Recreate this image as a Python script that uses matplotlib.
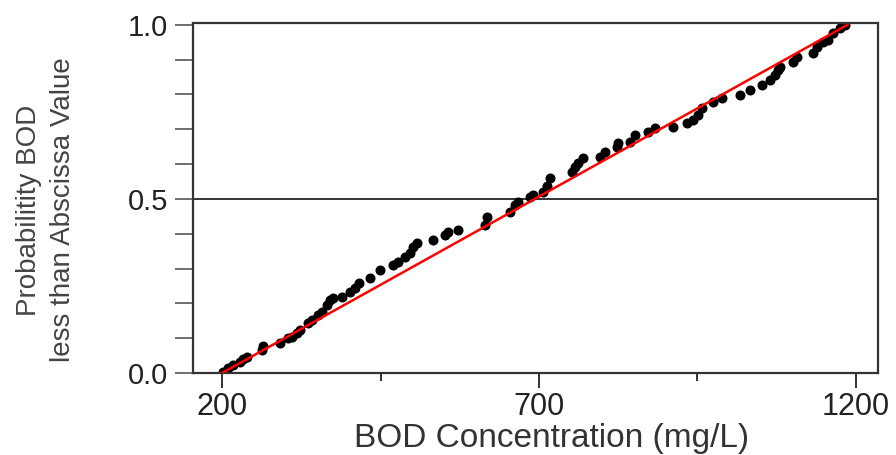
import numpy as np
import matplotlib
matplotlib.use('Agg')
import matplotlib.pyplot as plt
from matplotlib.ticker import FixedLocator

plt.rcParams['font.family'] = ['Liberation Sans', 'DejaVu Sans']

# BOD concentrations (mg/L), sorted, and their plotting probabilities
bod = [202, 209, 217, 228, 233, 239, 263, 265, 291, 304, 310, 318, 323, 336, 342,
       351, 358, 366, 370, 375, 389, 402, 410, 416, 433, 449, 470, 478, 489, 497,
       501, 508, 533, 552, 556, 572, 615, 618, 654, 662, 667, 686, 691, 706, 713,
       717, 752, 757, 762, 769, 796, 804, 823, 825, 844, 851, 872, 883, 911, 933,
       943, 951, 957, 974, 989, 1017, 1033, 1052, 1064, 1072, 1077, 1080, 1101, 1107, 1132,
       1138, 1148, 1156, 1164, 1175, 1183]
prob = [0.003, 0.014, 0.023, 0.032, 0.040, 0.046, 0.066, 0.078, 0.086, 0.101, 0.103, 0.115, 0.124, 0.144, 0.152,
        0.167, 0.175, 0.195, 0.210, 0.216, 0.218, 0.233, 0.244, 0.259, 0.273, 0.296, 0.310, 0.319, 0.333, 0.345,
        0.362, 0.374, 0.382, 0.397, 0.405, 0.411, 0.425, 0.448, 0.463, 0.483, 0.491, 0.506, 0.511, 0.520, 0.537,
        0.560, 0.578, 0.592, 0.603, 0.618, 0.621, 0.635, 0.649, 0.661, 0.664, 0.684, 0.693, 0.704, 0.707, 0.718,
        0.727, 0.741, 0.761, 0.779, 0.790, 0.799, 0.813, 0.828, 0.842, 0.856, 0.871, 0.879, 0.894, 0.908, 0.920,
        0.937, 0.951, 0.957, 0.977, 0.991, 1.000]

# fitted uniform cdf line
fit_x = [200, 1187]
fit_y = [0.0, 1.0]

fig = plt.figure(figsize=(8.96, 4.55), dpi=100)
ax = fig.add_axes([193/896, 1-373/455, (878-193)/896, (373-23)/455])

ax.axhline(0.5, color='#333333', lw=1.4, zorder=1)
ax.plot(bod, prob, 'o', color='black', ms=6.2, zorder=2)
ax.plot(fit_x, fit_y, color='#ff0000', lw=1.8, zorder=3)

ax.set_xlim(154, 1235)
ax.set_ylim(0, 1.005)

ax.set_xticks([200, 700, 1200])
ax.xaxis.set_minor_locator(FixedLocator([450, 950]))
ax.set_yticks([0.0, 0.5, 1.0])
ax.set_yticklabels(['0.0', '0.5', '1.0'])
ax.yaxis.set_minor_locator(FixedLocator([0.1, 0.2, 0.3, 0.4, 0.6, 0.7, 0.8, 0.9]))

ax.tick_params(axis='x', which='major', length=11, width=1.4, color='#333333',
               labelsize=22, labelcolor='#222222', pad=3)
ax.tick_params(axis='x', which='minor', length=6, width=1.4, color='#333333')
ax.tick_params(axis='y', which='both', length=13, width=1.2, color='#555555',
               labelsize=21, labelcolor='#222222', pad=5)

for s in ax.spines.values():
    s.set_color('#333333')
    s.set_linewidth(1.6)

fig.text(552/896, 1-439/455, 'BOD Concentration (mg/L)', fontsize=24,
         color='#333333', ha='center', va='center')
fig.text(46/896, 1-210/455, 'Probabilitity BOD\nless than Abscissa Value',
         fontsize=20, color='#444444', rotation=90, ha='center', va='center',
         multialignment='center', linespacing=1.35)

fig.savefig('out.png', dpi=100)
